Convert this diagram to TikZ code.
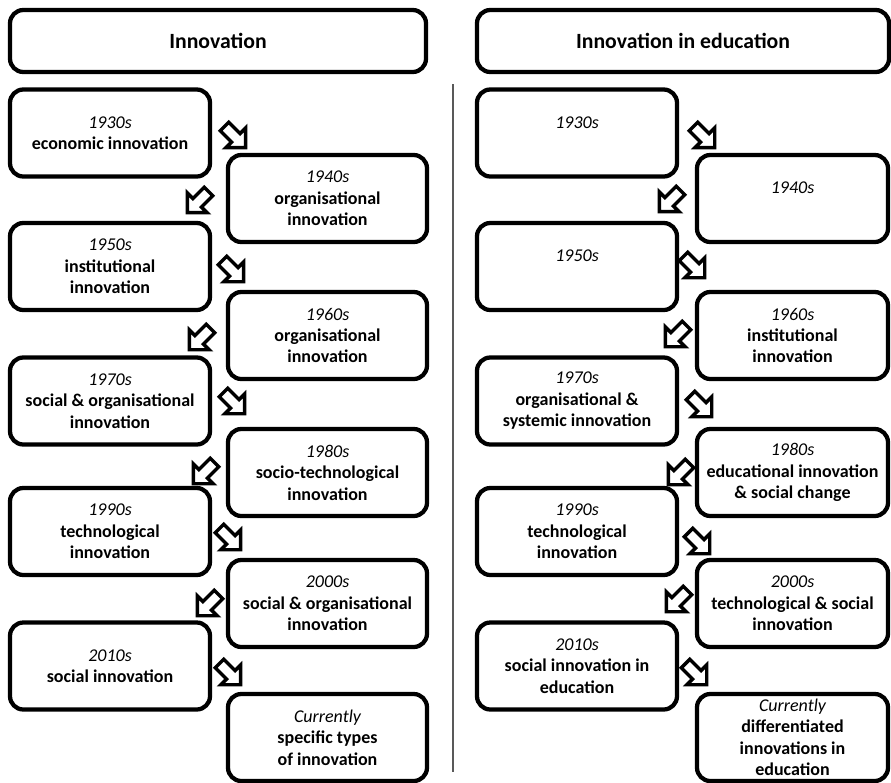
\documentclass[tikz,border=0pt]{standalone}
\usepackage{fontspec}
\setmainfont{Carlito}
\newcommand\decade[1]{{\mdseries\itshape #1}}
\begin{document}
\begin{tikzpicture}[x=0.75pt,y=-0.75pt,
  every node/.style={inner sep=0pt},
  basebox/.style={draw, line width=3.2pt, rounded corners=10pt, align=center, fill=white,
    font=\fontsize{13.5pt}{16.1pt}\selectfont\bfseries, minimum height=65.25pt},
  titlebox/.style={basebox, font=\fontsize{16.3pt}{19pt}\selectfont\bfseries, minimum height=46.5pt},
  lbox/.style={basebox, minimum width=150pt},
  rbox/.style={basebox, minimum width=149.25pt},
  rrbox/.style={basebox, minimum width=143.25pt},
  divider/.style={draw=black!65, line width=0.8pt},
  barrow/.pic={\draw[line width=2.6pt, fill=white, line join=miter, miter limit=10]
     (-12,-6) -- (4,-6) -- (4,-14) -- (18,0) -- (4,14) -- (4,6) -- (-12,6) -- cycle;}
]
\useasboundingbox (0,0) rectangle (891,782);

% titles
\node[titlebox, minimum width=312pt] (t1) at (218,41) {Innovation};
\node[titlebox, minimum width=309pt] (t2) at (683,41) {Innovation in education};

% divider
\coordinate (d1) at (453,84);
\coordinate (d2) at (453,772);
\draw[divider] (d1) -- (d2);

% left panel
\node[lbox] (a30) at (110,133) {\decade{1930s}\\economic innovation};
\node[rbox] (a40) at (327.5,198.5) {\decade{1940s}\\organisational\\innovation};
\node[lbox] (a50) at (110,266.5) {\decade{1950s}\\institutional\\innovation};
\node[rbox] (a60) at (327.5,335.5) {\decade{1960s}\\organisational\\innovation};
\node[lbox] (a70) at (110,401) {\decade{1970s}\\social \& organisational\\innovation};
\node[rbox] (a80) at (327.5,472.5) {\decade{1980s}\\socio-technological\\innovation};
\node[lbox] (a90) at (110,531.5) {\decade{1990s}\\technological\\innovation};
\node[rbox] (a00) at (327.5,603.5) {\decade{2000s}\\social \& organisational\\innovation};
\node[lbox] (a10) at (110,666) {\decade{2010s}\\social innovation};
\node[rbox] (acur) at (327.5,737.5) {\decade{Currently}\\specific types\\of innovation};

% right panel
\node[lbox] (b30) at (577,133) {\decade{1930s}\\\phantom{economic}};
\node[rrbox] (b40) at (792.5,198.5) {\decade{1940s}\\\phantom{economic}};
\node[lbox] (b50) at (577,266.5) {\decade{1950s}\\\phantom{economic}};
\node[rrbox] (b60) at (792.5,335.5) {\decade{1960s}\\institutional\\innovation};
\node[lbox] (b70) at (577,401) {\decade{1970s}\\organisational \&\\systemic innovation};
\node[rrbox] (b80) at (792.5,472.5) {\decade{1980s}\\educational innovation\\\& social change};
\node[lbox] (b90) at (577,531.5) {\decade{1990s}\\technological\\innovation};
\node[rrbox] (b00) at (792.5,603.5) {\decade{2000s}\\technological \& social\\innovation};
\node[lbox] (b10) at (577,666) {\decade{2010s}\\social innovation in\\education};
\node[rrbox] (bcur) at (792.5,737.5) {\decade{Currently}\\differentiated\\innovations in\\education};

% block arrows, left panel
\pic[rotate=-45]  at (233,135) {barrow};
\pic[rotate=-135] at (200,200) {barrow};
\pic[rotate=-45]  at (231,269) {barrow};
\pic[rotate=-135] at (202,337) {barrow};
\pic[rotate=-45]  at (232,401) {barrow};
\pic[rotate=-135] at (206,471) {barrow};
\pic[rotate=-45]  at (228,537) {barrow};
\pic[rotate=-135] at (210,603) {barrow};
\pic[rotate=-45]  at (228,672) {barrow};

% block arrows, right panel
\pic[rotate=-45]  at (702,135) {barrow};
\pic[rotate=-135] at (672,199) {barrow};
\pic[rotate=-45]  at (692,265) {barrow};
\pic[rotate=-135] at (678,334) {barrow};
\pic[rotate=-45]  at (699,404) {barrow};
\pic[rotate=-135] at (681,472) {barrow};
\pic[rotate=-45]  at (697,541) {barrow};
\pic[rotate=-135] at (679,599) {barrow};
\pic[rotate=-45]  at (694,672) {barrow};
\end{tikzpicture}
\end{document}
